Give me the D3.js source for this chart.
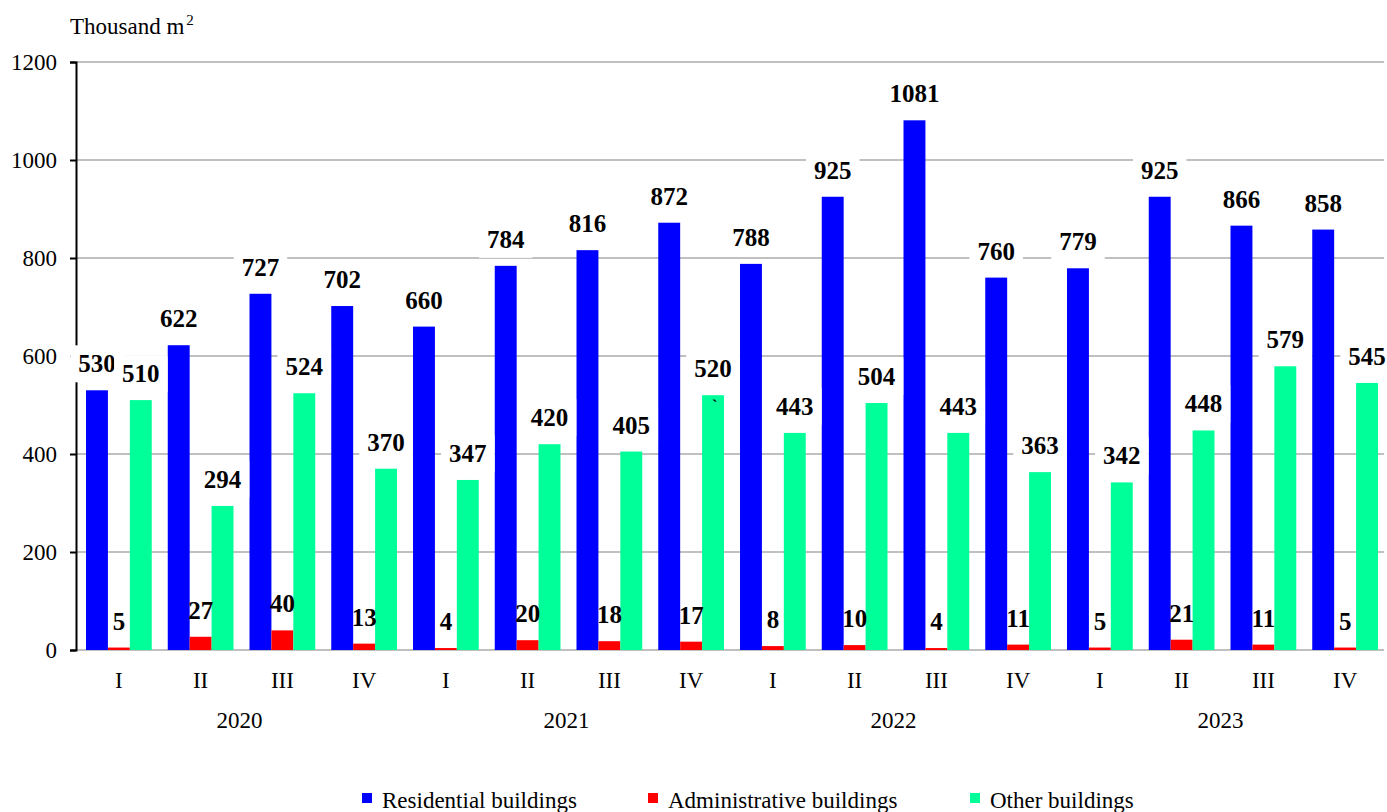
<!DOCTYPE html>
<html>
<head>
<meta charset="utf-8">
<script src="https://cdn.jsdelivr.net/npm/d3@7"></script>
<style>
  body { margin: 0; background: #fff; }
  svg, svg text { font-family: "Liberation Serif", "DejaVu Serif", serif; fill: #000; }
</style>
</head>
<body>
<script>
// chart data
var years = ["2020", "2021", "2022", "2023"];
var quarters = ["I", "II", "III", "IV"];
var seriesNames = ["Residential buildings", "Administrative buildings", "Other buildings"];
var seriesColors = ["#0000ff", "#ff0000", "#00ff99"];
var residential = [530, 622, 727, 702, 660, 784, 816, 872, 788, 925, 1081, 760, 779, 925, 866, 858];
var administrative = [5, 27, 40, 13, 4, 20, 18, 17, 8, 10, 4, 11, 5, 21, 11, 5];
var other = [510, 294, 524, 370, 347, 420, 405, 520, 443, 504, 443, 363, 342, 448, 579, 545];
var yTicks = [0, 200, 400, 600, 800, 1000, 1200];

var serif = "'Liberation Serif', 'DejaVu Serif', serif";

window.onload = function () {
  var w = 1387, h = 812;
  var svg = d3.select("body").append("svg")
    .attr("width", w)
    .attr("height", h)
    .attr("font-family", serif);

  var left = 76, right = 1384, top = 62, bottom = 650;

  // one slot per quarter
  var slots = [];
  years.forEach(function (yr) {
    quarters.forEach(function (q) { slots.push(yr + "-" + q); });
  });

  var x0 = d3.scaleBand().domain(slots).range([left, right]).padding(0);
  var x1 = d3.scaleBand().domain([0, 1, 2]).range([10, x0.bandwidth() - 6]).padding(0);
  var y = d3.scaleLinear().domain([0, 1200]).range([bottom, top]);

  // gridlines
  svg.append("g").selectAll("line")
    .data(yTicks)
    .enter().append("line")
    .attr("x1", left).attr("x2", right)
    .attr("y1", function (d) { return y(d); })
    .attr("y2", function (d) { return y(d); })
    .attr("stroke", "#c0c0c0")
    .attr("stroke-width", 2);

  // y axis
  var yAxis = d3.axisLeft(y).tickValues(yTicks).tickSize(6).tickPadding(13).tickFormat(d3.format("d"));
  var ax = svg.append("g")
    .attr("transform", "translate(" + left + ",0)")
    .call(yAxis)
    .attr("font-family", serif)
    .attr("font-size", 23);
  ax.select(".domain").attr("stroke", "#000").attr("stroke-width", 2);
  ax.selectAll(".tick line").attr("stroke", "#000").attr("stroke-width", 2);
  ax.selectAll(".tick text").attr("fill", "#000");

  // unit label
  svg.append("text")
    .attr("x", 70).attr("y", 34)
    .attr("font-size", 23)
    .text("Thousand m")
    .append("tspan")
    .attr("dy", -9)
    .attr("dx", 2)
    .attr("font-size", 15)
    .text("2");

  var series = [residential, administrative, other];
  var rows = slots.map(function (s, i) {
    return { slot: s, vals: series.map(function (arr) { return arr[i]; }) };
  });

  var groups = svg.append("g").selectAll("g")
    .data(rows)
    .enter().append("g")
    .attr("transform", function (d) { return "translate(" + x0(d.slot) + ",0)"; });

  groups.selectAll("rect")
    .data(function (d) { return d.vals.map(function (v, k) { return { k: k, v: v }; }); })
    .enter().append("rect")
    .attr("x", function (d) { return x1(d.k); })
    .attr("width", x1.bandwidth())
    .attr("y", function (d) { return y(d.v); })
    .attr("height", function (d) { return bottom - y(d.v); })
    .attr("fill", function (d) { return seriesColors[d.k]; });

  // data labels (white boxes for residential and other)
  var labelLayer = svg.append("g");
  [0, 2, 1].forEach(function (k) {
    rows.forEach(function (r) {
      var cx = x0(r.slot) + x1(k) + x1.bandwidth() / 2;
      var by = y(r.vals[k]) - 18;
      var g = labelLayer.append("g");
      var t = g.append("text")
        .attr("x", cx).attr("y", by)
        .attr("text-anchor", "middle")
        .attr("font-size", 25)
        .attr("font-weight", "bold")
        .text(r.vals[k]);
      if (k !== 1) {
        var tw = t.node().getComputedTextLength();
        g.insert("rect", "text")
          .attr("x", cx - tw / 2 - 8)
          .attr("y", by - 27)
          .attr("width", tw + 16)
          .attr("height", 37)
          .attr("fill", "#fff");
      }
    });
  });

  // stray mark inside one bar, as in the source
  svg.append("text")
    .attr("x", x0(slots[7]) + x1(2) + 10)
    .attr("y", y(other[7]) + 16)
    .attr("font-size", 16)
    .attr("font-weight", "bold")
    .text("`");

  // quarter labels
  svg.append("g").selectAll("text")
    .data(slots)
    .enter().append("text")
    .attr("x", function (d) { return x0(d) + x1(1) + x1.bandwidth() / 2; })
    .attr("y", 688)
    .attr("text-anchor", "middle")
    .attr("font-size", 23)
    .text(function (d) { return d.split("-")[1]; });

  // year labels
  svg.append("g").selectAll("text")
    .data(years)
    .enter().append("text")
    .attr("x", function (d, i) { return left + x0.step() * (i * 4 + 2); })
    .attr("y", 728)
    .attr("text-anchor", "middle")
    .attr("font-size", 23)
    .text(function (d) { return d; });

  // legend
  var legendX = [362, 648, 970];
  var legend = svg.append("g").selectAll("g")
    .data(seriesNames)
    .enter().append("g")
    .attr("transform", function (d, i) { return "translate(" + legendX[i] + ",0)"; });
  legend.append("rect")
    .attr("x", 0).attr("y", 793)
    .attr("width", 10).attr("height", 10)
    .attr("fill", function (d, i) { return seriesColors[i]; });
  legend.append("text")
    .attr("x", 20).attr("y", 808)
    .attr("font-size", 23)
    .text(function (d) { return d; });
};
</script>
</body>
</html>
